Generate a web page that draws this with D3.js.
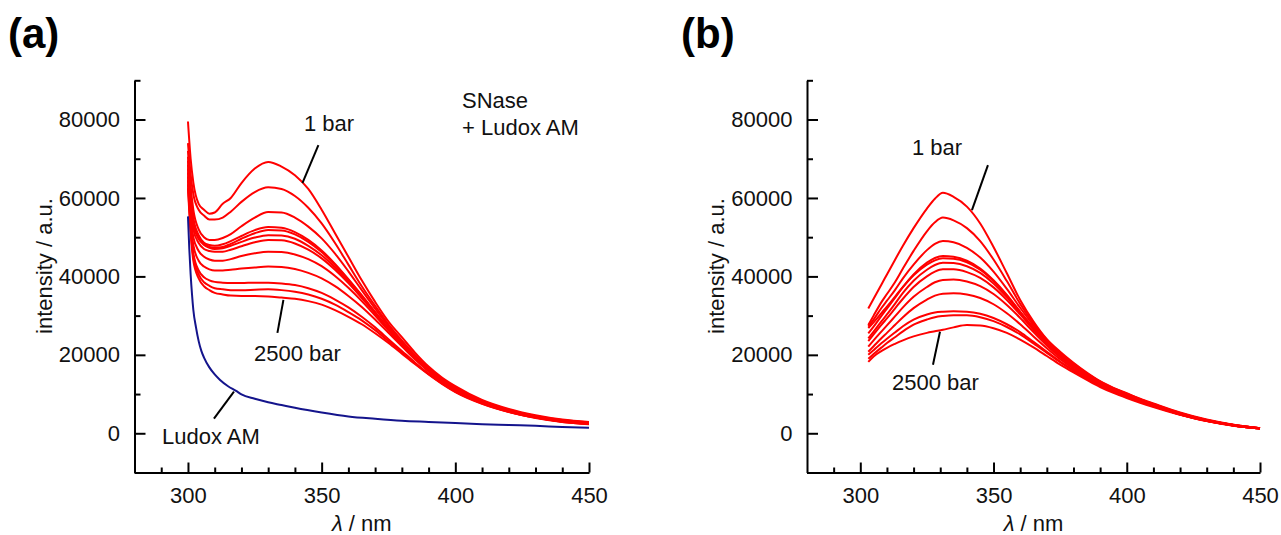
<!DOCTYPE html>
<html><head><meta charset="utf-8">
<script src="https://cdn.jsdelivr.net/npm/d3@7"></script>
<style>body{margin:0;background:#fff}svg{display:block}</style>
</head><body>
<svg id="c" width="1281" height="535"></svg>
<script>
// ---------- DATA ----------
const xTicksMajor = [300, 350, 400, 450];
const yTicksMajor = [0, 20000, 40000, 60000, 80000];

// panel (a): wavelengths (nm)
const wlA = [300,301,302,304,306,308,310,313,316,320,325,330,335,340,345,350,355,360,365,370,375,380,385,390,395,400,410,420,430,440,450];
const a01 = [79500,70000,64000,58500,57000,56000,56300,58500,60000,63800,67500,69200,68000,65800,62300,57000,51000,45000,39000,33500,28500,24500,20500,17000,14200,12000,8500,6200,4600,3500,2900];
const a02 = [74000,66000,61000,57000,55500,54500,54500,55000,56500,59000,61500,62700,62300,60500,57500,53500,48500,43000,37500,32500,27800,23700,19900,16600,13900,11700,8300,6000,4400,3400,2800];
const a03 = [72000,63000,57000,52000,50000,49300,49300,49800,50800,52800,55000,56400,56300,55000,52700,49700,45800,41300,36500,31800,27300,23200,19500,16300,13600,11400,8100,5900,4300,3300,2700];
const a04 = [70500,61000,55000,50500,48600,48000,47800,48200,49000,50300,51800,52600,52400,51300,49300,46600,43200,39300,35200,30900,26700,22900,19300,16100,13500,11300,8000,5800,4300,3200,2700];
const a05 = [69500,60000,54000,50000,48300,47500,47300,47500,48300,49600,51000,51800,51700,50700,48800,46200,42900,39100,35000,30800,26600,22800,19200,16000,13400,11200,8000,5800,4200,3200,2600];
const a06 = [68500,59000,53000,49500,48000,47300,47000,47200,47800,48800,49900,50500,50400,49600,47800,45400,42300,38700,34800,30700,26600,22800,19200,16000,13400,11200,7900,5700,4200,3200,2600];
const a07 = [67500,58000,52000,48500,47000,46500,46300,46300,46800,47700,48700,49300,49200,48400,46800,44600,41700,38300,34500,30600,26500,22700,19100,15900,13300,11100,7900,5700,4200,3100,2600];
const a08 = [66500,56500,50000,46500,45000,44300,44000,44000,44400,45200,45900,46300,46200,45600,44400,42600,40100,37100,33700,30000,26200,22500,19000,15900,13300,11100,7900,5700,4100,3100,2500];
const a09 = [65500,55000,48000,44000,42500,41800,41500,41500,41700,42000,42300,42500,42400,41900,40900,39500,37500,35000,32200,29000,25600,22200,18800,15800,13200,11000,7800,5600,4100,3000,2500];
const a10 = [64500,53500,46000,41500,39800,39000,38600,38400,38300,38300,38400,38400,38200,37800,37000,35800,34100,32100,29700,27000,24000,21000,18000,15200,12800,10700,7700,5500,4000,3000,2400];
const a11 = [63500,52000,45000,40500,38500,37600,37000,36700,36500,36500,36600,36700,36500,36100,35400,34300,32800,30900,28800,26300,23500,20700,17800,15100,12700,10600,7600,5500,4000,2900,2400];
const a12 = [62500,51000,44000,39500,37500,36500,35800,35400,35100,35000,35000,34900,34600,34300,33700,32800,31400,29700,27800,25500,23000,20300,17600,15000,12600,10500,7500,5400,3900,2900,2300];

// Ludox AM alone (blue)
const wlLudox = [300,300.5,301,301.5,302,303,304,305,306,308,310,312,315,318,320,325,330,335,340,350,360,370,380,390,400,410,420,430,440,450];
const ludox = [55300,47000,40500,35500,31500,27000,23500,21000,19300,16800,15000,13600,12000,10800,9900,8800,7900,7200,6500,5300,4300,3700,3200,2900,2600,2300,2100,1900,1600,1400];

// panel (b)
const wlB = [303,305,308,310,313,316,320,325,328,331,335,340,345,350,355,360,365,370,375,380,385,390,395,400,405,410,420,430,440,450];
const b01 = [31800,34300,38000,40500,44200,47800,52300,57300,59800,61300,60300,57800,53500,47500,40800,34000,28500,24000,20800,18000,15500,13300,11600,10200,8800,7600,5300,3500,2200,1300];
const b02 = [27600,30000,33500,35500,38500,42000,46500,51500,53800,55000,54300,52300,49000,44300,38800,33000,28000,23800,20500,17800,15300,13200,11500,10100,8700,7500,5200,3400,2200,1300];
const b03 = [27200,29000,32000,33800,36500,39500,43000,46700,48300,49000,48700,47300,44800,41200,36800,32000,27500,23500,20300,17700,15200,13100,11400,10000,8600,7400,5100,3400,2100,1300];
const b04 = [25500,27200,30000,31800,34500,37300,40500,43500,44700,45200,45000,44000,42000,39000,35300,31000,26900,23200,20100,17500,15100,13000,11300,9900,8500,7300,5100,3300,2100,1300];
const b05 = [26800,28300,30700,32300,34800,37300,40300,43000,44100,44600,44500,43600,41700,38800,35100,30900,26800,23100,20000,17400,15000,12900,11200,9800,8500,7300,5000,3300,2100,1300];
const b06 = [24200,25900,28600,30300,33000,35800,38900,41700,42900,43500,43400,42600,40900,38200,34700,30700,26700,23000,19900,17300,14900,12800,11100,9700,8400,7200,5000,3300,2100,1300];
const b07 = [23500,25200,27700,29300,31800,34300,37300,40000,41200,41800,41800,41100,39600,37200,34000,30300,26400,22800,19700,17100,14800,12700,11000,9600,8300,7100,4900,3200,2000,1200];
const b08 = [22100,23700,26000,27500,29800,32100,34800,37300,38500,39100,39200,38700,37500,35500,32700,29400,25800,22400,19400,16900,14600,12600,10900,9500,8200,7000,4900,3200,2000,1200];
const b09 = [20800,22200,24300,25600,27600,29600,31900,34100,35100,35600,35700,35400,34500,32900,30600,27800,24700,21700,18900,16500,14300,12400,10800,9400,8100,7000,4800,3200,2000,1200];
const b10 = [20000,21200,23000,24100,25700,27300,29000,30300,30800,31000,31100,31000,30500,29400,27800,25800,23300,20800,18300,16100,14000,12200,10600,9300,8000,6900,4800,3200,2000,1200];
const b11 = [19000,20200,21900,23000,24500,26000,27700,29000,29600,29900,30100,30100,29600,28600,27100,25200,22900,20500,18100,15900,13900,12100,10500,9200,8000,6900,4800,3100,2000,1200];
const b12 = [18200,19600,21000,21800,22800,23700,24700,25600,26000,26400,27000,27600,27500,26800,25600,23900,21900,19700,17500,15500,13600,11800,10300,9000,7800,6700,4700,3100,1900,1200];

const seriesA = [a01,a02,a03,a04,a05,a06,a07,a08,a09,a10,a11,a12];
const seriesB = [b01,b02,b03,b04,b05,b06,b07,b08,b09,b10,b11,b12];

// ---------- DRAW ----------
const svg = d3.select("#c");
const FONT = "'Liberation Sans', Arial, sans-serif";
const FS = 22;
const RED = "#ff0000", BLUE = "#14148c";

function panel(opt) {
  const x = d3.scaleLinear().domain([280, 450]).range([opt.x0, opt.x1]);
  const y = d3.scaleLinear().domain([-10000, 90000]).range([472.5, 80.3]);
  const g = svg.append("g");

  const yMinor = d3.range(-10000, 90001, 10000).filter(v => !yTicksMajor.includes(v));
  const xMinor = d3.range(290, 451, 10).filter(v => !xTicksMajor.includes(v));

  const ya = d3.axisLeft(y).tickValues(yTicksMajor).tickSize(-11).tickSizeOuter(0).tickPadding(14.5).tickFormat(d3.format("d"));
  g.append("g").attr("transform", `translate(${opt.x0},0)`).call(ya);
  g.append("g").attr("transform", `translate(${opt.x0},0)`)
    .call(d3.axisLeft(y).tickValues(yMinor).tickSize(-6).tickSizeOuter(0).tickFormat(""))
    .select(".domain").remove();

  const xa = d3.axisBottom(x).tickValues(xTicksMajor).tickSize(-10).tickSizeOuter(0).tickPadding(15);
  g.append("g").attr("transform", `translate(0,${y(-10000)})`).call(xa);
  g.append("g").attr("transform", `translate(0,${y(-10000)})`)
    .call(d3.axisBottom(x).tickValues(xMinor).tickSize(-5).tickSizeOuter(0).tickFormat(""))
    .select(".domain").remove();

  g.selectAll(".domain, .tick line").attr("stroke", "#000").attr("stroke-width", 2);
  g.selectAll(".tick text").attr("font-family", FONT).attr("font-size", FS).attr("fill", "#111");

  g.append("text").attr("transform", `translate(${opt.ylabX},266) rotate(-90)`)
    .attr("text-anchor", "middle").attr("font-family", FONT).attr("font-size", FS).attr("fill", "#111")
    .text("intensity / a.u.");
  const xt = g.append("text").attr("x", (opt.x0 + opt.x1) / 2).attr("y", 531)
    .attr("text-anchor", "middle").attr("font-family", FONT).attr("font-size", FS).attr("fill", "#111");
  xt.append("tspan").attr("font-style", "italic").text("λ");
  xt.append("tspan").text(" / nm");

  const line = (wl) => d3.line().x((d, i) => x(wl[i])).y(d => y(d)).curve(d3.curveMonotoneX);

  opt.series.forEach(s => {
    g.append("path").datum(s).attr("d", line(opt.wl)).attr("fill", "none")
      .attr("stroke", RED).attr("stroke-width", 2);
  });
  if (opt.blue) {
    g.append("path").datum(opt.blue).attr("d", line(opt.blueWl)).attr("fill", "none")
      .attr("stroke", BLUE).attr("stroke-width", 2);
  }

  opt.notes.forEach(n => {
    const ax = x(n.at[0]), ay = y(n.at[1]);
    g.append("line").attr("x1", ax).attr("y1", ay).attr("x2", ax + n.d[0]).attr("y2", ay + n.d[1])
      .attr("stroke", "#000").attr("stroke-width", 2);
    g.append("text").attr("x", n.t[0]).attr("y", n.t[1]).attr("font-family", FONT).attr("font-size", FS)
      .attr("fill", "#111").text(n.label);
  });
  (opt.texts || []).forEach(t => {
    g.append("text").attr("x", t[0]).attr("y", t[1]).attr("font-family", FONT).attr("font-size", FS)
      .attr("fill", "#111").text(t[2]);
  });

  svg.append("text").attr("x", opt.tagX).attr("y", 48).attr("font-family", FONT)
    .attr("font-weight", "bold").attr("font-size", 42).attr("fill", "#000").text(opt.tag);
}

panel({
  x0: 134.5, x1: 589, ylabX: 52, tag: "(a)", tagX: 8,
  wl: wlA, series: seriesA, blue: ludox, blueWl: wlLudox,
  notes: [
    { at: [342.8, 63800], d: [16, -38], t: [304, 131], label: "1 bar" },
    { at: [335.7, 34000], d: [-6, 33], t: [254, 361], label: "2500 bar" },
    { at: [317.2, 10600], d: [-20, 27], t: [162, 444], label: "Ludox AM" }
  ],
  texts: [[462, 108, "SNase"], [462, 135, "+ Ludox AM"]]
});

panel({
  x0: 807, x1: 1260, ylabX: 724, tag: "(b)", tagX: 681,
  wl: wlB, series: seriesB,
  notes: [
    { at: [341.9, 56900], d: [16, -45], t: [912, 155], label: "1 bar" },
    { at: [329.9, 25900], d: [-7, 33], t: [892, 390], label: "2500 bar" }
  ]
});
</script>
</body></html>
